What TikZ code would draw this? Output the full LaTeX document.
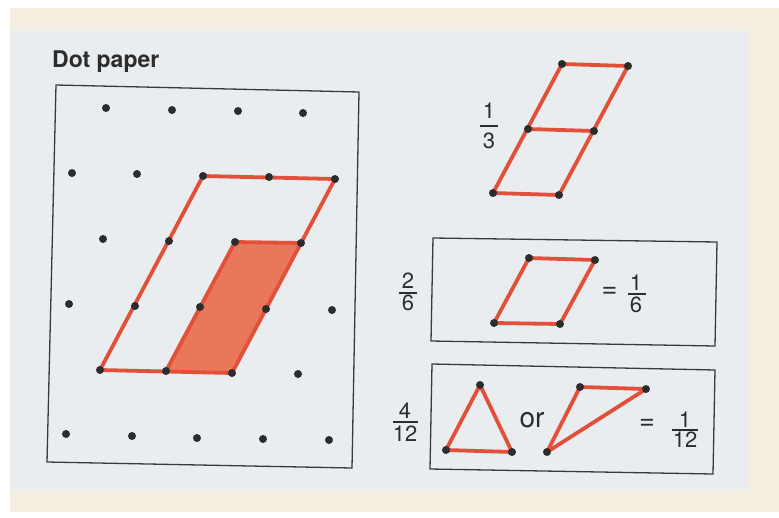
\documentclass[tikz,border=0pt]{standalone}
\usepackage{fontspec}
\setmainfont{TeX Gyre Heros}
\definecolor{panel}{HTML}{EAEDF0}
\definecolor{cream}{HTML}{F3EEDF}
\definecolor{redline}{HTML}{E2503A}
\definecolor{redfill}{HTML}{E9785A}
\definecolor{ink}{HTML}{2C2C2C}
\definecolor{boxgray}{HTML}{3A3A3A}
\begin{document}
\begin{tikzpicture}[x=1pt,y=-1pt,
  dotnode/.style={circle,fill=ink,inner sep=0pt,minimum size=8pt},
  redseg/.style={draw=redline,line width=3.8pt,line join=round,line cap=round},
  boxline/.style={draw=boxgray,line width=1.3pt},
  fracnode/.style={text=ink,font=\fontsize{22}{26}\selectfont,inner sep=0pt},
  fracbar/.style={draw=ink,line width=1.5pt},
  eqnode/.style={text=ink,font=\fontsize{27}{30}\selectfont,inner sep=0pt},
  wordnode/.style={text=ink,inner sep=0pt}]
\useasboundingbox (0,0) rectangle (779,517);
\fill[white] (0,0) rectangle (779,517);
\fill[cream] (10,8) rectangle (779,512);
\fill[panel] (10,30) rectangle (748,490);

% title
\node[wordnode,anchor=base west,font=\fontsize{23}{27}\selectfont\bfseries] (title) at (52,67) {Dot paper};

% boxes
\coordinate (LA) at (56,85); \coordinate (LB) at (359,92);
\coordinate (LC) at (352,468); \coordinate (LD) at (47,462);
\draw[boxline] (LA)--(LB)--(LC)--(LD)--cycle;
\coordinate (MA) at (433,238); \coordinate (MB) at (717,242);
\coordinate (MC) at (715,346); \coordinate (MD) at (431,341);
\draw[boxline] (MA)--(MB)--(MC)--(MD)--cycle;
\coordinate (NA) at (432,364); \coordinate (NB) at (715,370);
\coordinate (NC) at (713,474); \coordinate (ND) at (430,469);
\draw[boxline] (NA)--(NB)--(NC)--(ND)--cycle;

% dot lattice positions
\coordinate (r1a) at (106,108); \coordinate (r1b) at (172,110); \coordinate (r1c) at (238,111); \coordinate (r1d) at (303,113);
\coordinate (r2a) at (72,173); \coordinate (r2b) at (137,174); \coordinate (r2c) at (203,176); \coordinate (r2d) at (269,177); \coordinate (r2e) at (335,179);
\coordinate (r3a) at (103,239); \coordinate (r3b) at (169,241); \coordinate (r3c) at (235,242); \coordinate (r3d) at (301,243);
\coordinate (r4a) at (69,304); \coordinate (r4b) at (135,306); \coordinate (r4c) at (200,307); \coordinate (r4d) at (266,309); \coordinate (r4e) at (332,310);
\coordinate (r5a) at (100,370); \coordinate (r5b) at (166,371); \coordinate (r5c) at (232,373); \coordinate (r5d) at (298,374);
\coordinate (r6a) at (66,434); \coordinate (r6b) at (132,436); \coordinate (r6c) at (197,438); \coordinate (r6d) at (263,439); \coordinate (r6e) at (329,440);

% shaded part
\fill[redfill] (r5b)--(r3c)--(r3d)--(r5c)--cycle;
\draw[redseg] (r5b)--(r3c)--(r3d);
% big parallelogram
\draw[redseg] (r5a)--(r2c)--(r2e)--(r5c)--cycle;

\foreach \p in {r1a,r1b,r1c,r1d,r2a,r2b,r2c,r2d,r2e,r3a,r3b,r3c,r3d,r4a,r4b,r4c,r4d,r4e,r5a,r5b,r5c,r5d,r6a,r6b,r6c,r6d,r6e}
  \node[dotnode] at (\p) {};

% top right figure (thirds)
\coordinate (t1) at (562,64); \coordinate (t2) at (628,66);
\coordinate (t3) at (528,129); \coordinate (t4) at (594,131);
\coordinate (t5) at (493,193); \coordinate (t6) at (559,195);
\draw[redseg] (t1)--(t2)--(t6)--(t5)--cycle;
\draw[redseg] (t3)--(t4);
\foreach \p in {t1,t2,t3,t4,t5,t6} \node[dotnode] at (\p) {};
\node[fracnode] (f13n) at (489,110.5) {1};
\draw[fracbar] (480,126) -- (498,126);
\node[fracnode] (f13d) at (489,140.5) {3};

% box with 2/6
\coordinate (s1) at (529,258); \coordinate (s2) at (595,260);
\coordinate (s3) at (560,324); \coordinate (s4) at (494,323);
\draw[redseg] (s1)--(s2)--(s3)--(s4)--cycle;
\foreach \p in {s1,s2,s3,s4} \node[dotnode] at (\p) {};
\node[fracnode] (f26n) at (408,280.5) {2};
\draw[fracbar] (399,293) -- (417,293);
\node[fracnode] (f26d) at (408,302.5) {6};
\node[eqnode] (eq1) at (609.5,292.5) {=};
\node[fracnode] (f16n) at (636,282.5) {1};
\draw[fracbar] (628,294) -- (646,294);
\node[fracnode] (f16d) at (636,305) {6};

% box with 4/12
\coordinate (u1) at (480,385); \coordinate (u2) at (446,450); \coordinate (u3) at (512,452);
\draw[redseg] (u1)--(u2)--(u3)--cycle;
\coordinate (v1) at (580,387); \coordinate (v2) at (646,389); \coordinate (v3) at (547,452);
\draw[redseg] (v1)--(v2)--(v3)--cycle;
\foreach \p in {u1,u2,u3,v1,v2,v3} \node[dotnode] at (\p) {};
\node[fracnode] (f412n) at (405,410.5) {4};
\draw[fracbar] (393,422) -- (418,422);
\node[fracnode] (f412d) at (405,433.5) {12};
\node[wordnode,font=\fontsize{28}{32}\selectfont] (or) at (532,420) {or};
\node[eqnode] (eq2) at (647,424) {=};
\node[fracnode] (f112n) at (685,419.5) {1};
\draw[fracbar] (672,430) -- (698,430);
\node[fracnode] (f112d) at (685,439.5) {12};
\end{tikzpicture}
\end{document}
